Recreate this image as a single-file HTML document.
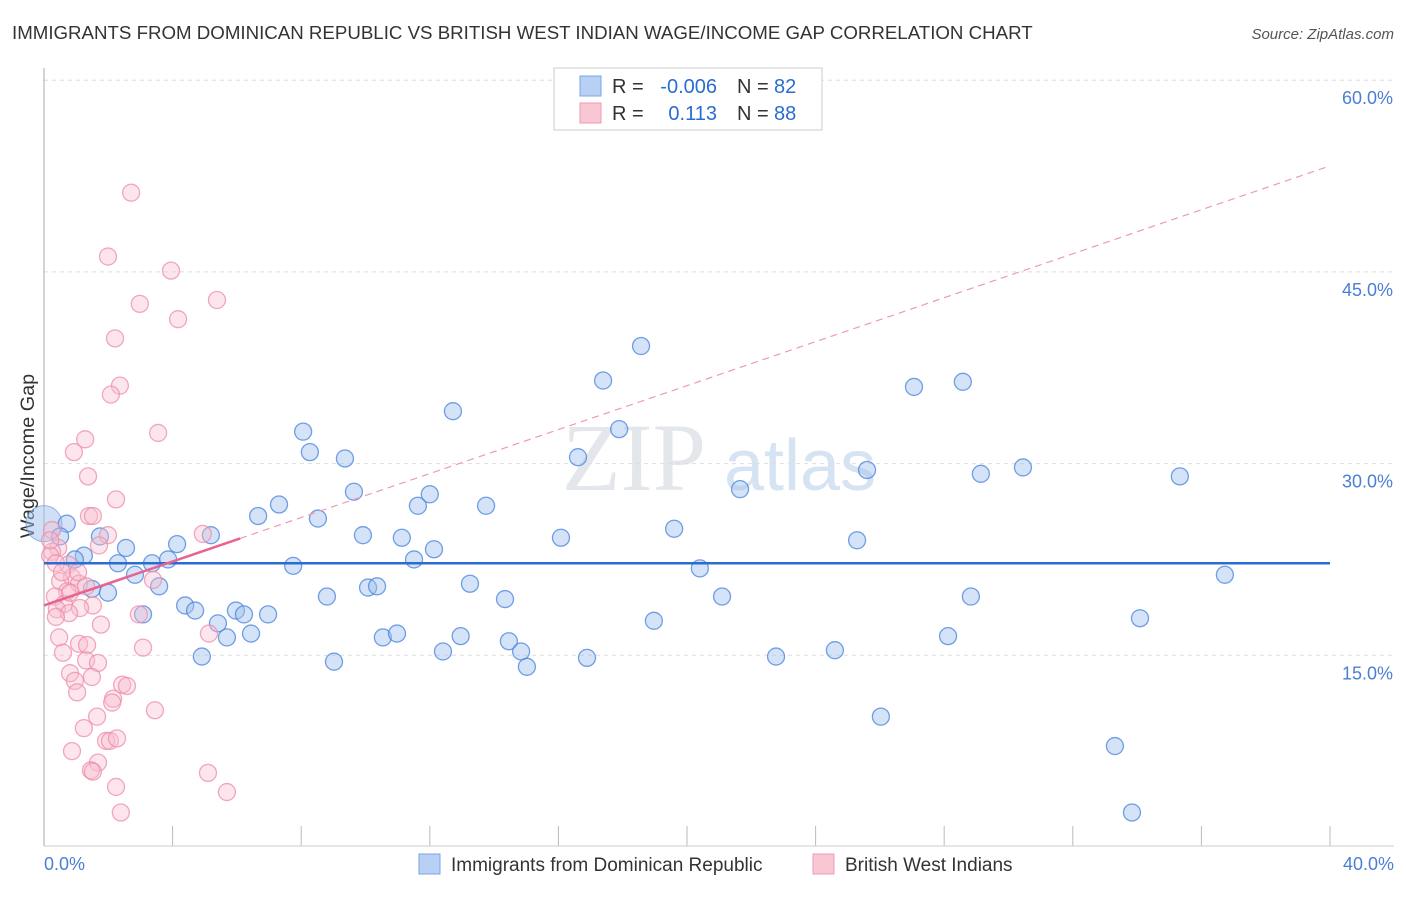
<!DOCTYPE html>
<html><head><meta charset="utf-8"><style>
body{margin:0;background:#fff;font-family:"Liberation Sans",sans-serif}
</style></head><body>
<svg id="c" width="1406" height="892" xmlns="http://www.w3.org/2000/svg">
<text x="12" y="39" font-size="18.7" fill="#333">IMMIGRANTS FROM DOMINICAN REPUBLIC VS BRITISH WEST INDIAN WAGE/INCOME GAP CORRELATION CHART</text>
<text x="1394" y="39" font-size="15" fill="#555" font-style="italic" text-anchor="end">Source: ZipAtlas.com</text>
<text x="634" y="490" font-size="96" fill="#e3e6ea" font-family="Liberation Serif,serif" text-anchor="middle">ZIP</text>
<text x="800" y="490" font-size="72" fill="#d6e3f3" text-anchor="middle">atlas</text>
<g id="grid"></g>
<line x1="44" y1="68" x2="44" y2="846" stroke="#aaa"/>
<line x1="44" y1="846" x2="1394" y2="846" stroke="#ccc"/>
<text x="34" y="456" font-size="19.8" fill="#333" transform="rotate(-90 34 456)" text-anchor="middle">Wage/Income Gap</text>
<text x="44" y="870" font-size="18" fill="#4a7fd4">0.0%</text>
<text x="1394" y="870" font-size="18" fill="#4a7fd4" text-anchor="end">40.0%</text>
<g id="pts"></g>
<g id="lines"></g>
<g>
<rect x="554" y="68" width="268" height="62" fill="#fff" stroke="#ccc"/>
<rect x="580" y="76" width="21" height="20" fill="#b8d0f3" stroke="#7aa4e6"/>
<rect x="580" y="103" width="21" height="20" fill="#f9c6d4" stroke="#ee9ab4"/>
<text y="93" font-size="20" fill="#333"><tspan x="612">R =</tspan><tspan x="717" fill="#2a6dd2" text-anchor="end">-0.006</tspan><tspan x="737">N =</tspan><tspan x="774" fill="#2a6dd2">82</tspan></text>
<text y="120" font-size="20" fill="#333"><tspan x="612">R =</tspan><tspan x="717" fill="#2a6dd2" text-anchor="end">0.113</tspan><tspan x="737">N =</tspan><tspan x="774" fill="#2a6dd2">88</tspan></text>
</g>
<g>
<rect x="419" y="854" width="21" height="20" fill="#b8d0f3" stroke="#7aa4e6"/>
<text x="451" y="871" font-size="19" fill="#333">Immigrants from Dominican Republic</text>
<rect x="813" y="854" width="21" height="20" fill="#f9c6d4" stroke="#ee9ab4"/>
<text x="845" y="871" font-size="19" fill="#333">British West Indians</text>
</g>
</svg>
<script>
const yTicks=[15,30,45,60];
const xTicks=[0,4,8,12,16,20,24,28,32,36,40];
const blueX=[0.71,0.5,1.24,0.96,1.49,1.99,1.74,2.3,2.55,2.83,3.08,3.36,3.58,3.86,4.14,4.39,4.7,4.91,5.19,5.41,5.69,5.97,6.22,6.44,6.66,6.97,7.31,7.75,8.06,8.27,8.52,8.8,9.02,9.36,9.64,9.92,10.08,10.36,10.54,10.98,11.13,11.51,11.63,12.0,12.13,12.41,12.72,12.96,13.25,13.75,14.34,14.46,14.84,15.02,16.08,16.61,16.89,17.39,17.89,18.57,18.97,19.6,20.4,21.09,21.65,22.77,24.6,25.29,25.6,26.03,27.06,28.12,28.58,28.83,29.14,30.45,33.31,33.84,34.09,35.33,36.73];
const blueY=[25.3,24.3,22.8,22.5,20.2,19.9,24.3,22.2,23.4,21.3,18.2,22.2,20.4,22.5,23.7,18.9,18.5,14.9,24.4,17.5,16.4,18.5,18.2,16.7,25.9,18.2,26.8,22.0,32.5,30.9,25.7,19.6,14.5,30.4,27.8,24.4,20.3,20.4,16.4,16.7,24.2,22.5,26.7,27.6,23.3,15.3,34.1,16.5,20.6,26.7,19.4,16.1,15.3,14.1,24.2,30.5,14.8,36.5,32.7,39.2,17.7,24.9,21.8,19.6,28.0,14.9,15.4,24.0,29.5,10.2,36.0,16.5,36.4,19.6,29.2,29.7,7.9,2.7,17.9,29.0,21.3];
const pinkX=[2.71,1.99,3.95,5.38,4.17,2.98,2.21,2.36,2.08,3.55,1.28,0.93,1.37,2.24,1.4,1.52,0.25,1.99,0.44,1.71,0.25,0.19,0.75,4.94,0.87,0.5,1.09,1.31,0.72,0.34,1.52,0.62,0.4,1.12,0.78,3.39,2.95,5.13,1.77,0.47,1.09,1.34,3.08,0.59,1.31,1.68,0.81,1.49,0.96,1.03,2.43,2.58,2.15,2.12,1.65,3.45,1.24,1.93,2.05,2.27,0.87,1.68,1.46,1.52,2.24,5.1,5.69,2.39,0.19,0.37,0.56,1.06,0.81,0.37];
const pinkY=[51.2,46.2,45.1,42.8,41.3,42.5,39.8,36.1,35.4,32.4,31.9,30.9,29.0,27.2,25.9,25.9,24.8,24.4,23.4,23.6,23.1,22.8,22.1,24.5,21.1,20.8,20.6,20.4,20.0,19.6,18.9,19.0,18.6,18.7,18.3,20.9,18.2,16.7,17.4,16.4,15.9,15.8,15.6,15.2,14.6,14.4,13.6,13.3,13.0,12.1,12.7,12.6,11.6,11.3,10.2,10.7,9.3,8.3,8.3,8.5,7.5,6.6,6.0,5.9,4.7,5.8,4.3,2.7,24.0,22.2,21.5,21.5,19.9,18.0];
const blueLine=[22.2,22.2];
const pinkLine=[18.9,53.3];
const pinkSolidEnd=6.1;
const NS="http://www.w3.org/2000/svg";
const X=v=>44+v*32.15;
const Y=v=>847-v*12.78;
function mk(t,a,p){const e=document.createElementNS(NS,t);for(const k in a)e.setAttribute(k,a[k]);p.appendChild(e);return e;}
const g=document.getElementById('grid');
yTicks.forEach(t=>{
 const l=mk('line',{x1:44,x2:1394,y1:Y(t),y2:Y(t),stroke:'#ddd','stroke-dasharray':'4,4'},g);
 
 
 const tx=mk('text',{x:1393,y:Y(t)+24,'font-size':18,fill:'#4a7fd4','text-anchor':'end'},g);
 tx.textContent=t.toFixed(1)+'%';
 
 
});
xTicks.forEach(t=>{
 const l=mk('line',{x1:X(t),x2:X(t),y1:826,y2:846,stroke:'#bbb'},g);
 
 
});
const p=document.getElementById('pts');
const big=mk('circle',{cx:X(0),cy:Y(25.3),r:18,fill:'rgba(160,192,238,0.5)',stroke:'rgba(90,140,220,0.6)'},p);


blueX.forEach((v,i)=>{
 const c=mk('circle',{cx:X(v),cy:Y(blueY[i]),r:8.5,fill:'rgba(160,192,238,0.45)',stroke:'rgba(70,130,220,0.75)','stroke-width':1.3},p);
 
 
});
pinkX.forEach((v,i)=>{
 const c=mk('circle',{cx:X(v),cy:Y(pinkY[i]),r:8.5,fill:'rgba(248,190,208,0.4)',stroke:'rgba(238,140,170,0.75)','stroke-width':1.3},p);
 
 
});
const L=document.getElementById('lines');
const bl=mk('line',{x1:X(0),x2:X(40),y1:Y(blueLine[0]),y2:Y(blueLine[1]),stroke:'#2a6dd2','stroke-width':2.5},L);


const pv=x=>pinkLine[0]+(pinkLine[1]-pinkLine[0])*x/40;
const pd=mk('line',{x1:X(pinkSolidEnd),x2:X(40),y1:Y(pv(pinkSolidEnd)),y2:Y(pv(40)),stroke:'#ee9ab4','stroke-width':1.2,'stroke-dasharray':'7,5'},L);


const ps=mk('line',{x1:X(0),x2:X(pinkSolidEnd),y1:Y(pv(0)),y2:Y(pv(pinkSolidEnd)),stroke:'#e8638f','stroke-width':2.5},L);


</script>
</body></html>
